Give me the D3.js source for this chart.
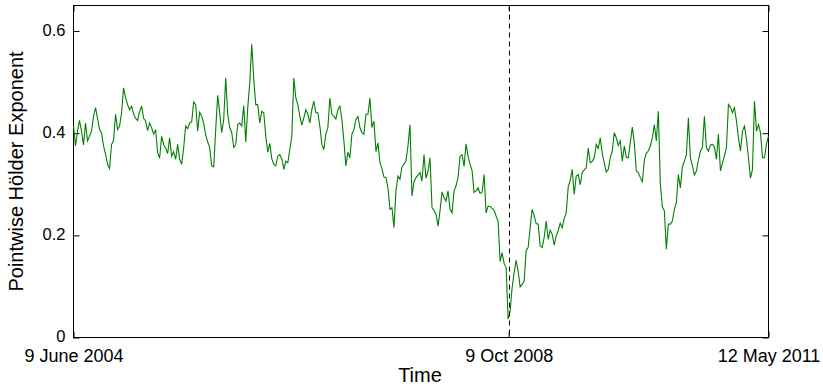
<!DOCTYPE html>
<html>
<head>
<meta charset="utf-8">
<script src="https://d3js.org/d3.v7.min.js"></script>
<style>
  body { margin: 0; background: #fff; }
  text { font-family: "Liberation Sans", Arial, Helvetica, sans-serif; }
</style>
</head>
<body>
<div id="svg-container"></div>
<script>
// pointwise holder exponent, evenly sampled over the period
let holder = [
  0.415,0.375,0.404,0.425,0.404,0.377,0.420,0.385,0.394,0.404,
  0.433,0.450,0.429,0.407,0.401,0.375,0.359,0.339,0.331,0.378,
  0.385,0.437,0.407,0.414,0.440,0.489,0.469,0.456,0.446,0.453,
  0.438,0.429,0.425,0.442,0.453,0.429,0.424,0.405,0.420,0.411,
  0.398,0.407,0.362,0.351,0.394,0.378,0.371,0.360,0.391,0.355,
  0.364,0.349,0.378,0.349,0.339,0.371,0.414,0.409,0.420,
  0.422,0.461,0.456,0.404,0.441,0.433,0.420,0.396,0.383,0.372,
  0.336,0.334,0.407,0.474,0.440,0.401,0.427,0.508,0.437,0.411,
  0.401,0.372,0.378,0.417,0.420,0.414,0.454,0.383,0.450,0.499,
  0.574,0.505,0.456,0.456,0.420,0.443,0.440,0.394,0.363,0.380,
  0.350,0.339,0.336,0.355,0.358,0.350,0.329,0.345,0.342,0.368,
  0.394,0.508,0.469,0.456,0.433,0.416,0.430,
  0.446,0.437,0.420,0.446,0.463,0.440,0.440,0.414,0.378,0.368,
  0.398,0.411,0.469,0.437,0.433,0.428,0.446,0.453,0.427,0.385,
  0.336,0.363,0.352,0.398,0.407,0.427,0.433,0.411,0.401,0.398,
  0.437,0.437,0.469,0.411,0.424,0.364,0.381,0.342,0.331,0.314,
  0.313,0.293,0.251,0.254,0.215,0.287,0.316,0.310,0.334,0.339,
  0.346,0.375,0.417,0.277,0.305,0.313,0.318,0.323,
  0.306,0.358,0.312,0.325,0.352,0.254,0.249,0.241,0.218,0.248,
  0.285,0.274,0.267,0.287,0.251,0.244,0.287,0.297,0.313,0.355,
  0.358,0.335,0.379,0.355,0.339,0.327,0.284,0.287,0.293,0.282,
  0.284,0.319,0.244,0.257,0.257,0.253,0.249,0.238,0.228,0.149,
  0.166,0.145,0.137,0.036,0.052,0.098,0.127,0.151,0.130,0.099,
  0.104,0.110,0.170,0.176,0.215,0.251,0.238,
  0.223,0.222,0.179,0.176,0.196,0.228,0.192,0.210,0.202,0.181,
  0.199,0.209,0.224,0.215,0.233,0.244,0.295,0.308,0.329,0.280,
  0.316,0.319,0.299,0.323,0.328,0.332,0.371,0.342,0.345,0.352,
  0.378,0.370,0.391,0.360,0.342,0.324,0.329,0.352,0.365,0.401,
  0.391,0.376,0.385,0.345,0.375,0.353,0.352,0.381,0.412,0.381,
  0.326,0.323,0.313,0.305,0.347,0.361,0.365,0.375,
  0.391,0.417,0.385,0.443,0.300,0.256,0.248,0.173,0.222,0.222,
  0.228,0.251,0.264,0.319,0.293,0.334,0.345,0.358,0.430,0.352,
  0.336,0.318,0.326,0.347,0.365,0.372,0.433,0.372,0.365,0.377,
  0.378,0.373,0.349,0.398,0.326,0.342,0.355,0.372,0.456,0.451,
  0.440,0.450,0.424,0.391,0.365,0.404,0.414,0.388,0.352,0.312,
  0.329,0.463,0.404,0.417,0.401,0.352,0.352,0.379,0.394
];

let tickDates = ['2004-06-09', '2008-10-09', '2011-05-12'];
let tickLabels = ['9 June 2004', '9 Oct 2008', '12 May 2011'];
let crisisDate = '2008-10-09';
let yTicks = [0, 0.2, 0.4, 0.6];

let w = 823;
let h = 390;
let pL = 73.5, pR = 768.5, pT = 5.5, pB = 337.5;

let parse = d3.timeParse('%Y-%m-%d');
let dates = tickDates.map(parse);
let start = dates[0], end = dates[dates.length - 1];
let step = (end - start) / (holder.length - 1);
let series = holder.map((v, i) => ({ date: new Date(+start + i * step), value: v }));

let svg = d3.select('#svg-container').
append('svg').
attr('width', w).
attr('height', h);

let x = d3.scaleTime().
domain([start, end]).
range([pL, pR]);

let y = d3.scaleLinear().
domain([0, 0.65]).
range([pB, pT]);

// axes, ticks pointing inward like matlab
let fmt = d => tickLabels[dates.findIndex(t => +t === +d)];

let xAxis = svg.append('g').
attr('transform', `translate(0,${pB})`).
call(d3.axisBottom(x).tickValues(dates).tickSize(-6).tickPadding(12).tickFormat(fmt));

svg.append('g').
attr('transform', `translate(0,${pT})`).
call(d3.axisTop(x).tickValues(dates).tickSize(-6).tickFormat(''));

let yAxis = svg.append('g').
attr('transform', `translate(${pL},0)`).
call(d3.axisLeft(y).tickValues(yTicks).tickSize(-6).tickPadding(8).tickFormat(d => d === 0 ? '0' : d3.format('.1f')(d)));

svg.append('g').
attr('transform', `translate(${pR},0)`).
call(d3.axisRight(y).tickValues(yTicks).tickSize(-6).tickFormat(''));

svg.selectAll('.domain').remove();
svg.selectAll('.tick line').attr('stroke', '#000');

xAxis.selectAll('text').
attr('font-size', 18).
attr('fill', '#000');

yAxis.selectAll('text').
attr('font-size', 16.5).
attr('dy', '0.26em').
attr('fill', '#000');

// frame
svg.append('rect').
attr('x', pL).
attr('y', pT).
attr('width', pR - pL).
attr('height', pB - pT).
attr('fill', 'none').
attr('stroke', '#000');

// the series
let line = d3.line().
x(d => x(d.date)).
y(d => y(d.value));

svg.append('path').
datum(series).
attr('d', line).
attr('fill', 'none').
attr('stroke', '#008000').
attr('stroke-width', 1.1);

// dashed marker at 9 Oct 2008
let cx = Math.round(x(parse(crisisDate))) + 0.5;
svg.append('line').
attr('x1', cx).
attr('x2', cx).
attr('y1', pT).
attr('y2', pB).
attr('stroke', '#000').
attr('stroke-dasharray', '5,4');

// axis titles
svg.append('text').
attr('x', 420).
attr('y', 382).
attr('text-anchor', 'middle').
attr('font-size', 20).
text('Time');

svg.append('text').
attr('transform', `translate(23,${(pT + pB) / 2}) rotate(-90)`).
attr('text-anchor', 'middle').
attr('font-size', 20).
text('Pointwise Hölder Exponent');
</script>
</body>
</html>
